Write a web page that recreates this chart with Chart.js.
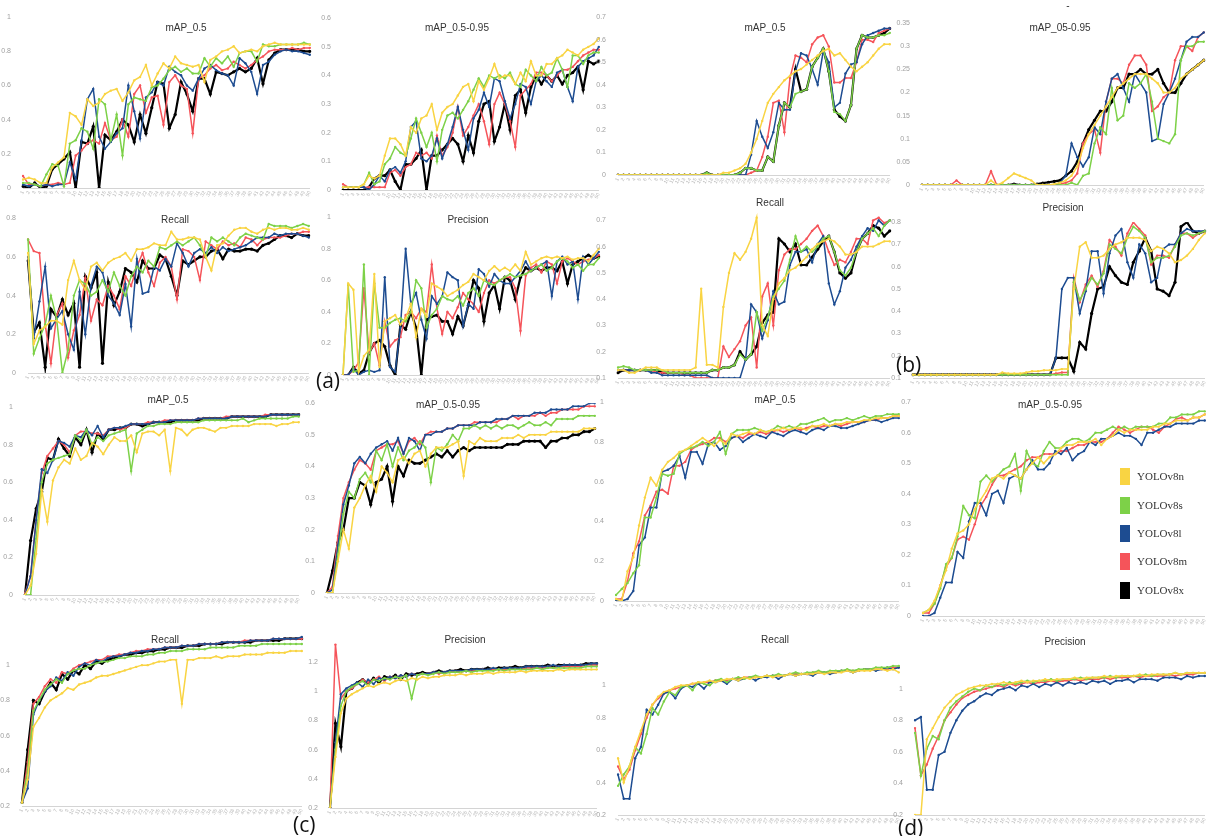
<!DOCTYPE html>
<html><head><meta charset="utf-8">
<script src="https://cdn.jsdelivr.net/npm/chart.js@4.4.0/dist/chart.umd.min.js"></script>
<style>
html,body{margin:0;padding:0;background:#fff;width:1208px;height:836px;overflow:hidden;position:relative;font-family:"Liberation Sans",Arial,sans-serif}
.ttl{position:absolute;transform:translateX(-50%);font:10px "Liberation Sans Narrow","Liberation Sans",sans-serif;color:#333;white-space:nowrap;z-index:5}
.tag{position:absolute;font:21px "Open Sans","Liberation Sans",sans-serif;color:#111;z-index:6}
.lgi{position:absolute;left:1120px;height:17px;font:11px "Liberation Serif","DejaVu Serif",serif;color:#333;line-height:17px;z-index:6;white-space:nowrap}
.sq{display:inline-block;width:10px;height:17px;vertical-align:top;margin-right:7px}
</style></head><body>
<script>
const epochs=['1','2','3','4','5','6','7','8','9','10','11','12','13','14','15','16','17','18','19','20','21','22','23','24','25','26','27','28','29','30','31','32','33','34','35','36','37','38','39','40','41','42','43','44','45','46','47','48','49','50'];
const models=['YOLOv8n','YOLOv8s','YOLOv8l','YOLOv8m','YOLOv8x'];

// (a) mAP_0.5
const a1_n=[0.05,0.06,0.05,0.03,0.03,0.12,0.15,0.18,0.44,0.42,0.37,0.52,0.48,0.50,0.55,0.57,0.58,0.51,0.56,0.63,0.65,0.72,0.60,0.67,0.73,0.70,0.77,0.73,0.72,0.71,0.72,0.62,0.75,0.77,0.80,0.81,0.83,0.79,0.80,0.81,0.80,0.83,0.84,0.85,0.84,0.84,0.84,0.84,0.84,0.84];
const a1_s=[0.03,0.03,0.02,0.01,0.08,0.14,0.13,0.01,0.26,0.28,0.35,0.33,0.23,0.52,0.49,0.28,0.43,0.19,0.49,0.53,0.52,0.51,0.59,0.60,0.64,0.69,0.71,0.68,0.70,0.67,0.67,0.76,0.71,0.76,0.73,0.77,0.71,0.79,0.80,0.80,0.74,0.84,0.83,0.83,0.84,0.84,0.84,0.84,0.85,0.84];
const a1_l=[0.02,0.01,0.02,0.01,0.02,0.01,0.02,0.02,0.15,0.05,0.28,0.52,0.58,0.30,0.23,0.27,0.32,0.35,0.60,0.45,0.29,0.53,0.56,0.62,0.60,0.71,0.68,0.66,0.60,0.57,0.64,0.70,0.72,0.69,0.67,0.66,0.60,0.76,0.73,0.68,0.55,0.72,0.74,0.78,0.80,0.81,0.80,0.80,0.79,0.78];
const a1_m=[0.07,0.02,0.02,0.01,0.02,0.02,0.03,0.02,0.03,0.19,0.22,0.26,0.28,0.26,0.38,0.28,0.30,0.40,0.30,0.55,0.60,0.44,0.53,0.54,0.37,0.62,0.66,0.60,0.58,0.32,0.64,0.66,0.70,0.72,0.69,0.70,0.74,0.72,0.70,0.72,0.75,0.77,0.80,0.81,0.81,0.81,0.82,0.81,0.82,0.82];
const a1_x=[0.01,0.00,0.03,0.00,0.01,0.11,0.14,0.17,0.21,0.00,0.27,0.26,0.36,0.00,0.31,0.28,0.33,0.40,0.37,0.27,0.43,0.32,0.47,0.62,0.61,0.35,0.43,0.62,0.55,0.45,0.64,0.64,0.55,0.68,0.67,0.66,0.68,0.70,0.68,0.70,0.76,0.61,0.75,0.79,0.81,0.81,0.81,0.81,0.80,0.80];
// (a) mAP_0.5-0.95
const a2_n=[0.01,0.01,0.01,0.01,0.02,0.05,0.04,0.05,0.12,0.18,0.18,0.16,0.12,0.22,0.20,0.25,0.26,0.30,0.21,0.27,0.29,0.30,0.33,0.36,0.37,0.31,0.38,0.35,0.39,0.44,0.39,0.40,0.40,0.37,0.41,0.38,0.45,0.40,0.40,0.44,0.44,0.46,0.47,0.49,0.48,0.47,0.49,0.50,0.51,0.53];
const a2_s=[0.01,0.01,0.01,0.01,0.02,0.06,0.02,0.03,0.09,0.11,0.15,0.13,0.12,0.18,0.25,0.20,0.15,0.20,0.10,0.21,0.26,0.27,0.25,0.28,0.31,0.35,0.39,0.36,0.40,0.39,0.40,0.39,0.41,0.37,0.36,0.42,0.40,0.38,0.43,0.40,0.41,0.46,0.42,0.36,0.47,0.47,0.44,0.47,0.48,0.48];
const a2_l=[0.01,0.01,0.01,0.01,0.01,0.00,0.02,0.05,0.03,0.07,0.08,0.06,0.10,0.22,0.24,0.11,0.10,0.12,0.18,0.11,0.16,0.22,0.29,0.21,0.14,0.25,0.28,0.34,0.29,0.39,0.38,0.31,0.25,0.30,0.37,0.36,0.30,0.38,0.40,0.38,0.36,0.41,0.42,0.36,0.31,0.43,0.45,0.46,0.47,0.50];
const a2_m=[0.02,0.01,0.01,0.01,0.01,0.01,0.01,0.01,0.01,0.06,0.07,0.05,0.08,0.09,0.13,0.12,0.13,0.11,0.19,0.12,0.15,0.20,0.29,0.19,0.22,0.26,0.30,0.24,0.16,0.30,0.34,0.30,0.24,0.15,0.33,0.35,0.37,0.41,0.41,0.40,0.38,0.40,0.42,0.42,0.43,0.45,0.47,0.48,0.49,0.49];
const a2_x=[0.00,0.00,0.00,0.00,0.00,0.01,0.04,0.05,0.05,0.07,0.03,0.00,0.09,0.09,0.11,0.14,0.00,0.12,0.12,0.14,0.16,0.18,0.16,0.10,0.19,0.13,0.24,0.30,0.31,0.17,0.22,0.30,0.21,0.33,0.35,0.27,0.36,0.40,0.37,0.40,0.38,0.40,0.37,0.40,0.41,0.43,0.35,0.45,0.44,0.45];
// (a) Recall
const a3_n=[0.62,0.15,0.22,0.24,0.27,0.27,0.25,0.48,0.58,0.48,0.43,0.55,0.57,0.53,0.57,0.59,0.60,0.62,0.58,0.64,0.64,0.65,0.67,0.66,0.66,0.73,0.69,0.69,0.70,0.70,0.69,0.60,0.53,0.66,0.67,0.71,0.74,0.75,0.75,0.73,0.72,0.74,0.75,0.74,0.75,0.75,0.74,0.74,0.75,0.74];
const a3_s=[0.69,0.10,0.18,0.25,0.40,0.28,0.00,0.12,0.40,0.48,0.46,0.40,0.42,0.48,0.42,0.52,0.45,0.40,0.50,0.55,0.52,0.58,0.55,0.65,0.64,0.66,0.68,0.66,0.68,0.70,0.66,0.60,0.70,0.68,0.70,0.68,0.66,0.70,0.72,0.71,0.70,0.69,0.77,0.76,0.76,0.76,0.75,0.76,0.77,0.76];
const a3_l=[0.60,0.18,0.37,0.55,0.23,0.28,0.32,0.20,0.12,0.42,0.20,0.45,0.55,0.52,0.40,0.36,0.30,0.46,0.24,0.59,0.41,0.42,0.55,0.53,0.59,0.55,0.67,0.62,0.55,0.62,0.64,0.62,0.65,0.62,0.65,0.63,0.64,0.65,0.66,0.68,0.70,0.70,0.70,0.72,0.71,0.72,0.72,0.72,0.71,0.70];
const a3_m=[0.69,0.63,0.62,0.25,0.05,0.30,0.36,0.08,0.22,0.30,0.49,0.27,0.38,0.35,0.45,0.40,0.33,0.50,0.45,0.55,0.62,0.52,0.45,0.57,0.60,0.55,0.38,0.64,0.63,0.60,0.48,0.68,0.66,0.64,0.68,0.66,0.67,0.65,0.70,0.69,0.66,0.69,0.70,0.70,0.70,0.71,0.72,0.72,0.73,0.73];
const a3_x=[0.58,0.21,0.26,0.03,0.33,0.29,0.38,0.30,0.36,0.03,0.50,0.44,0.52,0.05,0.47,0.35,0.42,0.54,0.52,0.47,0.58,0.54,0.54,0.61,0.59,0.50,0.40,0.58,0.56,0.58,0.60,0.60,0.63,0.64,0.59,0.64,0.63,0.63,0.64,0.64,0.63,0.66,0.67,0.69,0.71,0.71,0.70,0.72,0.71,0.71];
// (a) Precision
const a4_n=[0.00,0.58,0.54,0.02,0.12,0.16,0.64,0.05,0.34,0.36,0.38,0.32,0.36,0.45,0.24,0.42,0.37,0.58,0.56,0.54,0.50,0.52,0.54,0.57,0.59,0.64,0.62,0.60,0.66,0.69,0.66,0.68,0.66,0.70,0.66,0.78,0.70,0.72,0.74,0.75,0.74,0.75,0.74,0.75,0.73,0.74,0.74,0.72,0.76,0.80];
const a4_s=[0.00,0.57,0.02,0.03,0.70,0.00,0.58,0.30,0.30,0.33,0.35,0.36,0.34,0.40,0.60,0.55,0.30,0.38,0.42,0.50,0.48,0.47,0.50,0.44,0.52,0.55,0.50,0.60,0.58,0.57,0.60,0.62,0.64,0.62,0.63,0.64,0.66,0.68,0.70,0.66,0.68,0.72,0.74,0.72,0.68,0.70,0.66,0.70,0.70,0.74];
const a4_l=[0.00,0.00,0.04,0.00,0.02,0.03,0.02,0.03,0.62,0.05,0.02,0.30,0.80,0.45,0.52,0.35,0.23,0.50,0.45,0.50,0.65,0.62,0.60,0.31,0.45,0.42,0.67,0.64,0.56,0.64,0.60,0.58,0.58,0.62,0.66,0.72,0.66,0.68,0.70,0.72,0.50,0.72,0.75,0.70,0.72,0.48,0.75,0.70,0.74,0.78];
const a4_m=[0.00,0.00,0.03,0.08,0.55,0.14,0.20,0.06,0.34,0.18,0.22,0.24,0.38,0.40,0.36,0.42,0.40,0.70,0.42,0.26,0.40,0.36,0.43,0.52,0.48,0.45,0.40,0.52,0.60,0.58,0.60,0.62,0.62,0.55,0.28,0.63,0.68,0.70,0.65,0.72,0.70,0.58,0.72,0.74,0.72,0.70,0.72,0.73,0.74,0.76];
const a4_x=[0.00,0.00,0.05,0.01,0.03,0.14,0.20,0.22,0.18,0.06,0.00,0.32,0.29,0.40,0.30,0.00,0.35,0.37,0.38,0.34,0.34,0.26,0.37,0.31,0.44,0.60,0.55,0.34,0.52,0.57,0.42,0.62,0.60,0.48,0.62,0.68,0.66,0.68,0.66,0.68,0.68,0.66,0.72,0.58,0.70,0.72,0.74,0.76,0.74,0.75];

// (b) mAP_0.5
const b1_n=[0,0,0,0,0,0,0,0,0,0,0,0,0,0,0,0,0,0,0,0.01,0.01,0.02,0.03,0.05,0.10,0.16,0.24,0.32,0.36,0.39,0.42,0.44,0.46,0.47,0.49,0.51,0.53,0.55,0.56,0.53,0.54,0.51,0.48,0.46,0.48,0.50,0.53,0.56,0.58,0.58];
const b1_s=[0,0,0,0,0,0,0,0,0,0,0,0,0,0,0,0,0.01,0,0,0,0,0,0.01,0.03,0.03,0.02,0.02,0.08,0.06,0.22,0.32,0.30,0.36,0.37,0.38,0.48,0.52,0.56,0.46,0.28,0.27,0.24,0.31,0.56,0.62,0.61,0.61,0.62,0.62,0.63];
const b1_l=[0,0,0,0,0,0,0,0,0,0,0,0,0,0,0,0,0,0,0,0,0,0,0,0,0.09,0.24,0.17,0.12,0.19,0.32,0.29,0.29,0.46,0.54,0.53,0.47,0.40,0.55,0.50,0.30,0.32,0.45,0.49,0.50,0.58,0.62,0.63,0.64,0.65,0.65];
const b1_m=[0,0,0,0,0,0,0,0,0,0,0,0,0,0,0,0,0,0,0,0,0,0,0,0,0.01,0.02,0.08,0.17,0.32,0.33,0.19,0.43,0.53,0.52,0.50,0.58,0.61,0.62,0.57,0.41,0.41,0.43,0.43,0.50,0.60,0.60,0.59,0.63,0.64,0.65];
const b1_x=[0,0,0,0,0,0,0,0,0,0,0,0,0,0,0,0,0.01,0,0,0,0,0,0.01,0.03,0.03,0.02,0.02,0.08,0.06,0.22,0.32,0.30,0.47,0.37,0.38,0.48,0.52,0.56,0.46,0.29,0.26,0.24,0.31,0.56,0.62,0.61,0.61,0.62,0.63,0.65];
// (b) mAP_05-0.95
const b2_n=[0,0,0,0,0,0,0,0,0,0,0,0,0.01,0,0.005,0.015,0.025,0.02,0.015,0.01,0,0,0,0.002,0.005,0.01,0.02,0.04,0.08,0.11,0.13,0.15,0.17,0.19,0.21,0.22,0.23,0.24,0.24,0.24,0.23,0.22,0.20,0.20,0.21,0.23,0.24,0.25,0.26,0.27];
const b2_s=[0,0,0,0,0,0,0,0,0,0,0,0,0,0,0,0,0,0,0,0,0,0,0,0,0,0,0.005,0,0.02,0.025,0.09,0.125,0.11,0.21,0.14,0.15,0.22,0.21,0.22,0.24,0.18,0.10,0.095,0.09,0.11,0.27,0.30,0.30,0.31,0.31];
const b2_l=[0,0,0,0,0,0,0,0,0,0,0,0,0,0,0,0,0,0,0,0,0,0,0,0,0.005,0.02,0.09,0.06,0.04,0.06,0.125,0.11,0.18,0.23,0.24,0.21,0.18,0.24,0.22,0.20,0.095,0.10,0.175,0.20,0.23,0.27,0.31,0.32,0.32,0.33];
const b2_m=[0,0,0,0,0,0,0.01,0,0,0,0,0,0.03,0,0,0,0,0,0,0,0,0,0,0,0.002,0.005,0.01,0.025,0.09,0.11,0.12,0.07,0.18,0.23,0.23,0.22,0.26,0.28,0.28,0.26,0.16,0.17,0.19,0.20,0.27,0.30,0.30,0.29,0.32,0.33];
const b2_x=[0,0,0,0,0,0,0,0,0,0,0,0,0,0,0,0,0.002,0,0,0,0.002,0.004,0.006,0.008,0.01,0.02,0.03,0.05,0.09,0.12,0.14,0.16,0.16,0.18,0.21,0.21,0.24,0.24,0.25,0.24,0.24,0.25,0.22,0.20,0.20,0.22,0.24,0.25,0.26,0.27];
// (b) Recall
const b3_n=[0.13,0.13,0.12,0.12,0.13,0.14,0.14,0.14,0.13,0.13,0.13,0.13,0.13,0.13,0.14,0.44,0.15,0.15,0.14,0.37,0.50,0.575,0.55,0.58,0.63,0.71,0.30,0.26,0.40,0.46,0.48,0.51,0.52,0.54,0.56,0.59,0.61,0.62,0.63,0.62,0.60,0.57,0.57,0.58,0.60,0.60,0.60,0.61,0.62,0.62];
const b3_s=[0.14,0.145,0.14,0.13,0.13,0.13,0.13,0.13,0.13,0.12,0.12,0.12,0.12,0.12,0.12,0.12,0.12,0.13,0.13,0.14,0.14,0.15,0.19,0.17,0.19,0.35,0.28,0.33,0.41,0.44,0.47,0.55,0.64,0.58,0.60,0.58,0.60,0.63,0.64,0.58,0.51,0.49,0.52,0.58,0.63,0.65,0.67,0.64,0.68,0.70];
const b3_l=[0.13,0.13,0.13,0.13,0.13,0.13,0.12,0.12,0.11,0.11,0.11,0.11,0.11,0.11,0.11,0.11,0.11,0.10,0.10,0.10,0.10,0.10,0.10,0.17,0.38,0.35,0.25,0.32,0.43,0.38,0.39,0.53,0.58,0.58,0.59,0.54,0.61,0.64,0.46,0.38,0.43,0.52,0.55,0.60,0.64,0.67,0.66,0.70,0.68,0.70];
const b3_m=[0.13,0.13,0.13,0.13,0.13,0.13,0.13,0.12,0.12,0.12,0.12,0.12,0.11,0.11,0.10,0.10,0.10,0.10,0.10,0.22,0.18,0.21,0.24,0.30,0.33,0.14,0.41,0.46,0.30,0.51,0.57,0.59,0.59,0.61,0.63,0.66,0.68,0.64,0.58,0.53,0.55,0.54,0.58,0.63,0.63,0.61,0.70,0.71,0.69,0.70];
const b3_x=[0.12,0.13,0.13,0.13,0.13,0.13,0.13,0.13,0.12,0.12,0.12,0.12,0.12,0.12,0.12,0.12,0.12,0.13,0.13,0.14,0.14,0.15,0.20,0.17,0.19,0.22,0.31,0.34,0.35,0.63,0.61,0.58,0.61,0.53,0.53,0.56,0.59,0.62,0.64,0.58,0.50,0.48,0.50,0.58,0.63,0.65,0.68,0.67,0.64,0.66];
// (b) Precision
const b4_n=[0.115,0.115,0.115,0.115,0.115,0.115,0.115,0.115,0.115,0.115,0.115,0.115,0.115,0.115,0.115,0.125,0.12,0.12,0.12,0.125,0.13,0.13,0.135,0.135,0.135,0.14,0.14,0.50,0.69,0.71,0.64,0.64,0.65,0.68,0.70,0.71,0.73,0.73,0.73,0.72,0.67,0.69,0.68,0.66,0.62,0.63,0.65,0.68,0.72,0.75];
const b4_s=[0.115,0.115,0.115,0.115,0.115,0.115,0.115,0.115,0.115,0.115,0.115,0.115,0.115,0.115,0.115,0.115,0.115,0.115,0.115,0.115,0.115,0.115,0.115,0.115,0.115,0.115,0.115,0.53,0.45,0.50,0.55,0.52,0.57,0.70,0.68,0.66,0.73,0.78,0.76,0.73,0.62,0.64,0.64,0.65,0.69,0.74,0.75,0.74,0.75,0.76];
const b4_l=[0.115,0.115,0.115,0.115,0.115,0.115,0.115,0.115,0.115,0.115,0.115,0.115,0.115,0.115,0.115,0.115,0.115,0.115,0.115,0.115,0.115,0.115,0.115,0.115,0.19,0.50,0.55,0.55,0.39,0.49,0.67,0.67,0.48,0.66,0.74,0.77,0.62,0.55,0.70,0.66,0.53,0.55,0.68,0.70,0.70,0.75,0.77,0.76,0.76,0.76];
const b4_m=[0.115,0.115,0.115,0.115,0.115,0.115,0.115,0.115,0.115,0.115,0.115,0.115,0.115,0.115,0.115,0.115,0.115,0.115,0.115,0.115,0.115,0.115,0.115,0.115,0.12,0.125,0.125,0.55,0.44,0.52,0.56,0.51,0.58,0.72,0.69,0.65,0.75,0.80,0.77,0.74,0.61,0.65,0.65,0.64,0.70,0.75,0.75,0.73,0.75,0.76];
const b4_x=[0.115,0.115,0.115,0.115,0.115,0.115,0.115,0.115,0.115,0.115,0.115,0.115,0.115,0.115,0.115,0.115,0.115,0.115,0.115,0.115,0.115,0.115,0.115,0.115,0.19,0.19,0.19,0.13,0.26,0.23,0.39,0.50,0.51,0.60,0.56,0.53,0.52,0.62,0.67,0.73,0.67,0.50,0.49,0.47,0.53,0.78,0.80,0.76,0.75,0.76];

// (c) mAP_0.5
const c1_n=[0.00,0.05,0.22,0.56,0.39,0.61,0.68,0.72,0.70,0.78,0.72,0.74,0.81,0.79,0.75,0.80,0.84,0.82,0.82,0.85,0.76,0.86,0.87,0.87,0.85,0.88,0.66,0.89,0.88,0.85,0.88,0.89,0.89,0.88,0.87,0.89,0.89,0.90,0.90,0.90,0.90,0.91,0.91,0.91,0.91,0.90,0.91,0.91,0.92,0.92];
const c1_s=[0.00,0.00,0.30,0.60,0.70,0.72,0.73,0.74,0.75,0.85,0.82,0.88,0.80,0.84,0.82,0.85,0.86,0.87,0.88,0.66,0.86,0.88,0.90,0.90,0.91,0.91,0.91,0.92,0.92,0.92,0.92,0.92,0.93,0.93,0.93,0.93,0.93,0.93,0.93,0.94,0.92,0.93,0.94,0.94,0.94,0.94,0.94,0.94,0.95,0.95];
const c1_l=[0.00,0.10,0.40,0.67,0.65,0.72,0.82,0.81,0.79,0.85,0.84,0.88,0.85,0.90,0.84,0.88,0.89,0.89,0.90,0.91,0.91,0.91,0.91,0.92,0.92,0.92,0.93,0.93,0.93,0.93,0.93,0.94,0.94,0.94,0.94,0.94,0.94,0.95,0.95,0.95,0.95,0.95,0.95,0.95,0.96,0.96,0.96,0.96,0.96,0.96];
const c1_m=[0.01,0.10,0.40,0.65,0.74,0.78,0.82,0.80,0.76,0.85,0.87,0.87,0.86,0.86,0.85,0.88,0.89,0.88,0.89,0.91,0.91,0.91,0.92,0.92,0.92,0.93,0.93,0.93,0.93,0.93,0.93,0.94,0.94,0.94,0.94,0.94,0.95,0.95,0.95,0.95,0.95,0.95,0.95,0.96,0.96,0.96,0.96,0.96,0.96,0.96];
const c1_x=[0.00,0.29,0.46,0.55,0.73,0.72,0.83,0.78,0.74,0.84,0.80,0.88,0.76,0.86,0.83,0.88,0.88,0.89,0.89,0.91,0.91,0.90,0.91,0.92,0.92,0.92,0.92,0.93,0.93,0.93,0.93,0.93,0.94,0.94,0.94,0.94,0.94,0.95,0.95,0.95,0.95,0.95,0.95,0.95,0.96,0.96,0.96,0.96,0.96,0.96];
// (c) mAP_0.5-0.95
const c2_n=[0.00,0.00,0.10,0.20,0.14,0.27,0.30,0.34,0.37,0.32,0.40,0.38,0.35,0.42,0.43,0.41,0.44,0.45,0.40,0.44,0.46,0.46,0.46,0.47,0.48,0.37,0.48,0.47,0.49,0.48,0.48,0.48,0.49,0.49,0.49,0.50,0.49,0.50,0.50,0.50,0.50,0.51,0.51,0.51,0.51,0.51,0.51,0.52,0.52,0.52];
const c2_s=[0.00,0.00,0.12,0.25,0.32,0.30,0.36,0.38,0.35,0.45,0.42,0.47,0.40,0.46,0.42,0.45,0.46,0.48,0.46,0.35,0.46,0.45,0.47,0.50,0.48,0.52,0.52,0.53,0.52,0.53,0.52,0.53,0.52,0.53,0.53,0.52,0.53,0.54,0.53,0.53,0.54,0.53,0.55,0.55,0.55,0.55,0.56,0.56,0.56,0.56];
const c2_l=[0.00,0.01,0.15,0.28,0.34,0.41,0.43,0.41,0.44,0.46,0.47,0.48,0.45,0.49,0.44,0.49,0.48,0.45,0.50,0.50,0.51,0.51,0.52,0.52,0.53,0.53,0.53,0.53,0.54,0.54,0.54,0.55,0.55,0.55,0.56,0.56,0.56,0.56,0.57,0.57,0.57,0.58,0.58,0.58,0.58,0.59,0.59,0.59,0.60,0.60];
const c2_m=[0.00,0.02,0.18,0.30,0.35,0.39,0.42,0.41,0.39,0.45,0.46,0.47,0.47,0.48,0.44,0.48,0.49,0.47,0.50,0.51,0.51,0.51,0.52,0.52,0.53,0.53,0.53,0.54,0.54,0.54,0.54,0.54,0.55,0.55,0.56,0.55,0.56,0.56,0.56,0.57,0.56,0.57,0.57,0.58,0.58,0.58,0.58,0.59,0.59,0.59];
const c2_x=[0.00,0.07,0.16,0.20,0.30,0.30,0.35,0.34,0.28,0.35,0.36,0.40,0.29,0.40,0.37,0.42,0.41,0.41,0.42,0.43,0.44,0.43,0.45,0.43,0.45,0.46,0.45,0.46,0.46,0.46,0.46,0.46,0.46,0.47,0.47,0.47,0.48,0.48,0.48,0.48,0.46,0.48,0.48,0.49,0.49,0.50,0.50,0.51,0.51,0.52];
// (c) Recall
const c3_n=[0.22,0.35,0.65,0.70,0.76,0.80,0.82,0.84,0.87,0.86,0.89,0.90,0.91,0.93,0.94,0.94,0.95,0.96,0.97,0.98,0.99,1.00,1.00,1.01,1.02,1.02,1.03,1.03,0.78,1.03,1.03,1.04,1.04,1.04,1.05,1.04,1.05,1.05,1.05,1.06,1.06,1.06,1.06,1.07,1.07,1.07,1.07,1.08,1.08,1.08];
const c3_s=[0.22,0.40,0.74,0.80,0.86,0.89,0.92,0.90,0.95,0.97,0.98,0.98,1.00,1.01,1.02,1.02,1.03,1.04,1.04,1.05,1.05,1.05,1.06,1.06,1.07,1.07,1.08,1.08,1.08,1.09,1.09,1.09,1.09,1.10,1.10,1.10,1.10,1.10,1.11,1.11,1.11,1.11,1.12,1.12,1.12,1.12,1.12,1.12,1.12,1.12];
const c3_l=[0.22,0.30,0.72,0.80,0.85,0.88,0.93,0.91,0.96,0.94,0.99,1.01,1.00,1.03,1.02,1.04,1.05,1.05,1.06,1.07,1.07,1.08,1.08,1.09,1.09,1.10,1.10,1.10,1.11,1.11,1.11,1.12,1.12,1.12,1.12,1.13,1.13,1.13,1.13,1.13,1.14,1.14,1.14,1.14,1.15,1.15,1.15,1.15,1.15,1.16];
const c3_m=[0.22,0.45,0.78,0.82,0.88,0.92,0.90,0.96,0.95,0.98,1.00,1.01,1.02,1.03,1.03,1.05,1.05,1.06,1.06,1.07,1.08,1.08,1.09,1.09,1.09,1.10,1.10,1.10,1.11,1.11,1.11,1.12,1.12,1.12,1.12,1.13,1.13,1.13,1.13,1.14,1.14,1.14,1.14,1.14,1.15,1.15,1.15,1.15,1.15,1.15];
const c3_x=[0.22,0.52,0.80,0.78,0.85,0.90,0.86,0.95,0.92,0.97,0.95,1.00,0.98,1.02,1.01,1.03,1.04,1.05,1.06,1.06,1.07,1.07,1.08,1.08,1.09,1.09,1.10,1.10,1.10,1.11,1.11,1.11,1.12,1.12,1.12,1.12,1.13,1.13,1.13,1.13,1.13,1.14,1.14,1.14,1.14,1.14,1.15,1.15,1.15,1.15];
// (c) Precision
const c4_n=[0.2,0.55,0.85,0.95,0.98,1.00,1.02,1.04,1.03,1.05,1.06,1.05,1.07,1.08,1.07,1.09,1.08,1.10,1.09,1.10,1.10,1.11,1.11,1.11,1.12,1.11,1.12,1.12,1.12,1.13,1.12,1.13,1.13,1.13,1.13,1.14,1.13,1.14,1.14,1.14,1.14,1.14,1.15,1.14,1.15,1.15,1.15,1.15,1.15,1.15];
const c4_s=[0.2,0.60,0.90,1.00,1.03,1.05,1.07,1.04,1.08,1.07,1.09,1.08,1.10,1.09,1.11,0.95,1.11,1.12,1.11,1.12,1.13,1.12,1.13,1.13,1.13,1.14,1.13,1.14,1.14,1.14,1.14,1.15,1.14,1.15,1.15,1.15,1.15,1.15,1.16,1.15,1.16,1.16,1.16,1.16,1.16,1.16,1.16,1.17,1.17,1.17];
const c4_l=[0.2,0.65,0.98,1.02,1.04,1.06,1.03,1.08,1.05,1.09,1.08,1.10,1.09,1.11,1.10,1.12,1.11,1.12,1.12,1.13,1.13,1.13,1.14,1.14,1.14,1.14,1.15,1.15,1.15,1.15,1.16,1.15,1.16,1.16,1.16,1.16,1.17,1.17,1.17,1.17,1.17,1.18,1.17,1.18,1.18,1.18,1.18,1.18,1.19,1.19];
const c4_m=[0.2,1.32,0.95,1.00,1.02,1.05,1.08,1.06,1.08,1.10,1.07,1.10,1.09,1.11,1.10,1.12,1.11,1.12,1.12,1.13,1.12,1.13,1.13,1.14,1.13,1.14,1.14,1.14,1.15,1.14,1.15,1.15,1.15,1.15,1.16,1.15,1.16,1.16,1.16,1.16,1.17,1.16,1.17,1.17,1.17,1.17,1.17,1.18,1.18,1.18];
const c4_x=[0.2,0.78,0.62,1.00,1.02,1.06,1.08,1.05,1.09,1.06,1.10,1.09,1.11,1.08,1.12,1.11,1.12,1.13,1.12,1.13,1.14,1.13,1.14,1.14,1.15,1.14,1.15,1.15,1.15,1.16,1.15,1.16,1.16,1.16,1.17,1.16,1.17,1.17,1.17,1.17,1.18,1.17,1.18,1.18,1.18,1.18,1.18,1.19,1.19,1.19];

// (d) mAP_0.5
const d1_n=[0.01,0.00,0.15,0.22,0.38,0.52,0.62,0.58,0.66,0.70,0.72,0.75,0.76,0.78,0.80,0.82,0.80,0.78,0.81,0.79,0.84,0.83,0.84,0.85,0.84,0.86,0.85,0.86,0.86,0.87,0.86,0.87,0.87,0.86,0.88,0.88,0.89,0.88,0.89,0.89,0.90,0.90,0.90,0.91,0.91,0.92,0.92,0.92,0.93,0.93];
const d1_s=[0.03,0.06,0.09,0.14,0.18,0.42,0.42,0.52,0.64,0.63,0.64,0.74,0.76,0.77,0.78,0.80,0.78,0.80,0.85,0.74,0.84,0.86,0.86,0.86,0.87,0.86,0.85,0.86,0.88,0.87,0.88,0.87,0.89,0.89,0.90,0.91,0.92,0.90,0.91,0.91,0.92,0.91,0.92,0.93,0.92,0.93,0.93,0.94,0.94,0.94];
const d1_l=[0.00,0.00,0.01,0.05,0.28,0.32,0.47,0.47,0.65,0.66,0.68,0.73,0.62,0.75,0.75,0.69,0.79,0.80,0.76,0.78,0.82,0.83,0.80,0.82,0.84,0.83,0.82,0.85,0.84,0.83,0.85,0.86,0.85,0.84,0.86,0.87,0.86,0.88,0.88,0.87,0.87,0.88,0.89,0.90,0.91,0.91,0.90,0.91,0.92,0.92];
const d1_m=[0.01,0.01,0.10,0.24,0.30,0.43,0.48,0.55,0.56,0.54,0.68,0.68,0.70,0.76,0.78,0.79,0.80,0.82,0.82,0.80,0.82,0.83,0.82,0.84,0.84,0.85,0.84,0.85,0.86,0.85,0.86,0.87,0.86,0.87,0.88,0.87,0.88,0.88,0.89,0.88,0.89,0.90,0.90,0.90,0.91,0.91,0.92,0.92,0.93,0.93];
// (d) mAP_0.5-0.95
const d2_n=[0.01,0.02,0.05,0.10,0.15,0.22,0.27,0.28,0.30,0.35,0.38,0.41,0.45,0.46,0.45,0.47,0.46,0.45,0.48,0.50,0.52,0.50,0.52,0.53,0.55,0.56,0.56,0.57,0.57,0.57,0.58,0.56,0.58,0.59,0.61,0.60,0.61,0.61,0.61,0.61,0.62,0.62,0.63,0.63,0.64,0.64,0.64,0.65,0.65,0.66];
const d2_s=[0.01,0.02,0.04,0.09,0.17,0.19,0.26,0.36,0.33,0.32,0.44,0.46,0.44,0.46,0.48,0.49,0.53,0.41,0.54,0.50,0.49,0.54,0.57,0.55,0.55,0.57,0.58,0.58,0.57,0.58,0.60,0.60,0.61,0.62,0.61,0.62,0.61,0.62,0.62,0.62,0.62,0.63,0.63,0.65,0.65,0.66,0.66,0.66,0.67,0.67];
const d2_l=[0.00,0.00,0.01,0.06,0.11,0.11,0.21,0.19,0.31,0.37,0.37,0.33,0.40,0.41,0.37,0.45,0.46,0.45,0.48,0.51,0.48,0.48,0.50,0.54,0.53,0.55,0.51,0.53,0.54,0.57,0.56,0.58,0.58,0.59,0.60,0.59,0.59,0.58,0.56,0.60,0.60,0.61,0.62,0.62,0.63,0.63,0.63,0.63,0.64,0.64];
const d2_m=[0.01,0.01,0.04,0.10,0.16,0.19,0.25,0.26,0.25,0.30,0.36,0.39,0.43,0.46,0.46,0.47,0.48,0.49,0.51,0.52,0.52,0.53,0.53,0.53,0.54,0.54,0.55,0.56,0.56,0.57,0.57,0.57,0.58,0.60,0.62,0.61,0.60,0.61,0.62,0.62,0.61,0.60,0.62,0.63,0.645,0.65,0.64,0.65,0.65,0.66];
// (d) Recall
const d3_n=[0.55,0.40,0.50,0.62,0.72,0.82,0.88,0.93,0.96,0.97,0.99,1.00,1.00,1.01,1.02,1.02,1.03,1.02,1.03,1.04,1.04,1.03,1.05,1.04,1.05,1.05,1.06,1.05,1.06,1.06,1.07,1.06,1.07,1.07,1.07,1.08,1.07,1.08,1.08,1.08,1.09,1.08,1.09,1.09,1.09,1.10,1.10,1.09,1.10,1.08];
const d3_s=[0.38,0.45,0.50,0.62,0.58,0.70,0.86,0.82,0.90,0.96,0.94,0.99,1.00,0.97,1.02,1.01,1.00,1.03,1.04,1.02,1.04,1.05,1.04,1.05,1.06,1.05,1.06,1.06,1.07,1.06,1.07,1.08,1.07,1.08,1.08,1.09,1.08,1.09,1.09,1.09,1.10,1.09,1.10,1.10,1.10,1.11,1.11,1.11,1.12,1.12];
const d3_l=[0.45,0.30,0.30,0.55,0.62,0.85,0.82,0.88,0.95,0.96,0.92,0.98,1.00,0.99,1.01,0.98,1.02,1.02,1.03,1.01,1.04,1.03,1.04,1.05,1.03,1.05,1.05,1.06,1.04,1.06,1.07,1.06,1.07,1.07,1.06,1.08,1.08,1.07,1.08,1.09,1.09,1.08,1.09,1.10,1.10,1.09,1.10,1.11,1.10,1.11];
const d3_m=[0.50,0.42,0.48,0.60,0.70,0.80,0.88,0.92,0.95,0.97,0.98,0.99,1.00,1.01,1.01,1.02,1.02,1.03,1.03,1.03,1.04,1.04,1.05,1.05,1.05,1.05,1.06,1.06,1.06,1.06,1.07,1.07,1.07,1.07,1.08,1.08,1.08,1.08,1.08,1.09,1.09,1.09,1.09,1.10,1.10,1.10,1.10,1.10,1.11,1.11];
// (d) Precision
const d4_n=[0.20,0.20,0.68,0.75,0.82,0.88,0.92,0.96,0.98,1.00,1.01,1.02,1.02,1.03,1.03,1.04,1.03,1.04,1.05,1.04,1.05,1.05,1.06,1.05,1.06,1.06,1.06,1.07,1.06,1.07,1.07,1.07,1.08,1.07,1.08,1.08,1.08,1.08,1.09,1.08,1.09,1.09,1.09,1.09,1.10,1.09,1.10,1.10,1.10,1.10];
const d4_s=[0.72,0.45,0.62,0.70,0.68,0.80,0.88,0.92,0.95,0.98,1.00,0.99,1.02,1.01,1.03,1.02,1.04,1.03,1.04,1.05,1.04,1.05,1.05,1.06,1.05,1.06,1.06,1.06,1.07,1.06,1.07,1.07,1.07,1.08,1.07,1.08,1.08,1.08,1.08,1.09,1.08,1.09,1.09,1.09,1.10,1.09,1.10,1.10,1.10,1.10];
const d4_l=[0.80,0.82,0.36,0.36,0.58,0.60,0.72,0.80,0.86,0.90,0.92,0.95,0.97,0.96,0.99,1.00,1.01,0.99,1.02,1.01,1.03,1.01,1.03,1.02,1.04,1.02,1.04,1.03,1.04,1.03,1.05,1.04,1.05,1.03,1.05,1.05,1.06,1.04,1.06,1.06,1.06,1.05,1.07,1.07,1.07,1.06,1.08,1.07,1.08,1.08];
const d4_m=[0.75,0.45,0.52,0.62,0.70,0.80,0.85,0.90,0.94,0.96,0.98,0.99,1.00,1.01,1.02,1.01,1.03,1.02,1.03,1.04,1.03,1.04,1.04,1.05,1.04,1.05,1.05,1.06,1.05,1.06,1.06,1.06,1.07,1.06,1.07,1.07,1.07,1.08,1.07,1.08,1.08,1.08,1.08,1.09,1.08,1.09,1.09,1.09,1.10,1.10];

const COLORS=['#f9d443','#7dd148','#1d4c91','#f5545a','#000000'];

// layout (positions/styles only)
const panels=[
 {t:'mAP_0.5',      s:[a1_n,a1_s,a1_l,a1_m,a1_x],min:0,max:1,step:0.2,box:[1,9,316,191],tt:[186,22]},
 {t:'mAP_0.5-0.95', s:[a2_n,a2_s,a2_l,a2_m,a2_x],min:0,max:0.6,step:0.1,box:[321,10,285,192],tt:[457,22]},
 {t:'Recall',       s:[a3_n,a3_s,a3_l,a3_m,a3_x],min:0,max:0.8,step:0.2,box:[6,210,310,175],tt:[175,214]},
 {t:'Precision',    s:[a4_n,a4_s,a4_l,a4_m,a4_x],min:0,max:1,step:0.2,box:[321,209,285,178],tt:[468,214]},
 {t:'mAP_0.5',      s:[b1_n,b1_s,b1_l,b1_m,b1_x],min:0,max:0.7,step:0.1,box:[596,9,301,178],tt:[765,22]},
 {t:'mAP_05-0.95',  s:[b2_n,b2_s,b2_l,b2_m,b2_x],min:0,max:0.35,step:0.05,box:[894,15,317,182],tt:[1060,22],yw:28},
 {t:'Recall',       s:[b3_n,b3_s,b3_l,b3_m,b3_x],min:0.1,max:0.75,step:0.1,box:[596,199,301,191],tt:[770,197]},
 {t:'Precision',    s:[b4_n,b4_s,b4_l,b4_m,b4_x],min:0.1,max:0.8,step:0.1,box:[891,214,321,176],tt:[1063,202]},
 {t:'mAP_0.5',      s:[c1_n,c1_s,c1_l,c1_m,c1_x],min:0,max:1,step:0.2,box:[3,399,303,208],tt:[168,394]},
 {t:'mAP_0.5-0.95', s:[c2_n,c2_s,c2_l,c2_m,c2_x],min:0,max:0.6,step:0.1,box:[305,395,297,210],tt:[448,399]},
 {t:'Recall',       s:[c3_n,c3_s,c3_l,c3_m,c3_x],min:0.2,max:1.17,step:0.2,box:[0,627,309,191],tt:[165,634]},
 {t:'Precision',    s:[c4_n,c4_s,c4_l,c4_m,c4_x],min:0.2,max:1.35,step:0.2,box:[308,632,296,188],tt:[465,634]},
 {t:'mAP_0.5',      s:[d1_n,d1_s,d1_l,d1_m,null],min:0,max:1,step:0.2,box:[594,394,312,219],tt:[775,394]},
 {t:'mAP_0.5-0.95', s:[d2_n,d2_s,d2_l,d2_m,null],min:0,max:0.7,step:0.1,box:[901,394,311,234],tt:[1050,399]},
 {t:'Recall',       s:[d3_n,d3_s,d3_l,d3_m,null],min:0.2,max:1.18,step:0.2,box:[596,648,310,179],tt:[775,634]},
 {t:'Precision',    s:[d4_n,d4_s,d4_l,d4_m,null],min:0.2,max:1.18,step:0.2,box:[893,652,319,175],tt:[1065,636]}
];

const XH=12;
panels.forEach(p=>{
  const yw=p.yw||22;
  const c=document.createElement('canvas');
  c.width=p.box[2]; c.height=p.box[3];
  c.style.cssText='position:absolute;left:'+p.box[0]+'px;top:'+p.box[1]+'px';
  document.body.appendChild(c);
  const ds=[];
  p.s.forEach((arr,k)=>{
    if(!arr) return;
    ds.push({label:models[k],data:arr,borderColor:COLORS[k],backgroundColor:COLORS[k],
      pointBackgroundColor:COLORS[k],pointBorderColor:COLORS[k],
      borderWidth:k===4?2.2:1.5,pointRadius:k===4?1.6:1.2,pointBorderWidth:0,pointHoverRadius:0,tension:0});
  });
  new Chart(c,{type:'line',data:{labels:epochs,datasets:ds},options:{
    responsive:false,animation:false,events:[],
    layout:{padding:{top:6,right:4,left:0,bottom:0}},
    plugins:{legend:{display:false},tooltip:{enabled:false},title:{display:false}},
    scales:{
      x:{grid:{display:false,drawTicks:false},border:{display:true,color:'#d4d4d4',width:1},
         ticks:{autoSkip:false,maxRotation:60,minRotation:60,font:{size:5},color:'#b8b8b8',padding:2},
         afterFit:s=>{s.height=XH;}},
      y:{min:p.min,max:p.max,grid:{display:false},border:{display:false},
         ticks:{stepSize:p.step,includeBounds:false,font:{size:7},color:'#a0a0a0',padding:4,
           callback:v=>String(+Number(v).toFixed(2))},
         afterFit:s=>{s.width=yw;}}
    }
  }});
  const d=document.createElement('div');
  d.className='ttl'; d.textContent=p.t;
  d.style.left=p.tt[0]+'px'; d.style.top=p.tt[1]+'px';
  document.body.appendChild(d);
});

// group tags
[['(a)',316,366],['(b)',896,350],['(c)',293,810],['(d)',898,813]].forEach(t=>{
  const d=document.createElement('div'); d.className='tag'; d.textContent=t[0];
  d.style.left=t[1]+'px'; d.style.top=t[2]+'px'; document.body.appendChild(d);
});
const dash=document.createElement('div'); dash.className='ttl'; dash.textContent='-';
dash.style.left='1068px'; dash.style.top='0px'; document.body.appendChild(dash);

// legend
const legTop=[468,497,525,553,582];
models.forEach((m,k)=>{
  const d=document.createElement('div'); d.className='lgi'; d.style.top=legTop[k]+'px';
  const sq=document.createElement('span'); sq.className='sq'; sq.style.background=COLORS[k];
  d.appendChild(sq); d.appendChild(document.createTextNode(m));
  document.body.appendChild(d);
});
</script>
</body></html>
